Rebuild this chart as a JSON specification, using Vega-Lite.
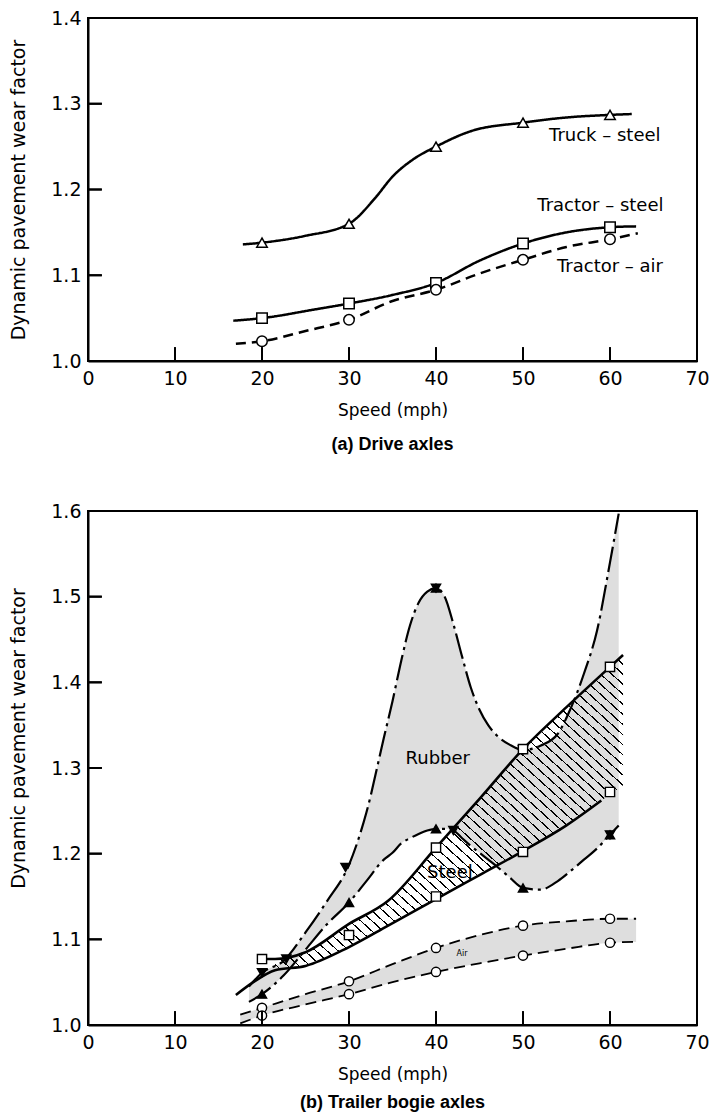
{
  "$schema": "https://vega.github.io/schema/vega-lite/v6.json",
  "background": "white",
  "padding": {"left": 8, "top": 8, "right": 0, "bottom": 0},
  "spacing": 46,
  "datasets": {
    "driveCurves": [
      {"series": "Truck – steel", "speed": 17.8, "value": 1.136},
      {"series": "Truck – steel", "speed": 20, "value": 1.138},
      {"series": "Truck – steel", "speed": 25, "value": 1.146},
      {"series": "Truck – steel", "speed": 30, "value": 1.16},
      {"series": "Truck – steel", "speed": 33, "value": 1.19},
      {"series": "Truck – steel", "speed": 35, "value": 1.215},
      {"series": "Truck – steel", "speed": 37.5, "value": 1.236},
      {"series": "Truck – steel", "speed": 40, "value": 1.25},
      {"series": "Truck – steel", "speed": 44, "value": 1.268},
      {"series": "Truck – steel", "speed": 50, "value": 1.278},
      {"series": "Truck – steel", "speed": 55, "value": 1.284},
      {"series": "Truck – steel", "speed": 60, "value": 1.287},
      {"series": "Truck – steel", "speed": 62.5, "value": 1.288},
      {"series": "Tractor – steel", "speed": 16.7, "value": 1.047},
      {"series": "Tractor – steel", "speed": 20, "value": 1.05},
      {"series": "Tractor – steel", "speed": 26, "value": 1.06},
      {"series": "Tractor – steel", "speed": 30, "value": 1.067},
      {"series": "Tractor – steel", "speed": 35, "value": 1.077},
      {"series": "Tractor – steel", "speed": 40, "value": 1.091},
      {"series": "Tractor – steel", "speed": 45, "value": 1.117},
      {"series": "Tractor – steel", "speed": 50, "value": 1.137},
      {"series": "Tractor – steel", "speed": 55, "value": 1.15},
      {"series": "Tractor – steel", "speed": 60, "value": 1.156},
      {"series": "Tractor – steel", "speed": 63, "value": 1.157},
      {"series": "Tractor – air", "speed": 17, "value": 1.02},
      {"series": "Tractor – air", "speed": 20, "value": 1.023},
      {"series": "Tractor – air", "speed": 25, "value": 1.035},
      {"series": "Tractor – air", "speed": 30, "value": 1.048},
      {"series": "Tractor – air", "speed": 35, "value": 1.07},
      {"series": "Tractor – air", "speed": 40, "value": 1.083},
      {"series": "Tractor – air", "speed": 45, "value": 1.102},
      {"series": "Tractor – air", "speed": 50, "value": 1.118},
      {"series": "Tractor – air", "speed": 55, "value": 1.133},
      {"series": "Tractor – air", "speed": 60, "value": 1.142},
      {"series": "Tractor – air", "speed": 63.2, "value": 1.149}
    ],
    "drivePoints": [
      {"series": "Truck – steel", "speed": 20, "value": 1.138},
      {"series": "Truck – steel", "speed": 30, "value": 1.16},
      {"series": "Truck – steel", "speed": 40, "value": 1.25},
      {"series": "Truck – steel", "speed": 50, "value": 1.278},
      {"series": "Truck – steel", "speed": 60, "value": 1.287},
      {"series": "Tractor – steel", "speed": 20, "value": 1.05},
      {"series": "Tractor – steel", "speed": 30, "value": 1.067},
      {"series": "Tractor – steel", "speed": 40, "value": 1.091},
      {"series": "Tractor – steel", "speed": 50, "value": 1.137},
      {"series": "Tractor – steel", "speed": 60, "value": 1.156},
      {"series": "Tractor – air", "speed": 20, "value": 1.023},
      {"series": "Tractor – air", "speed": 30, "value": 1.048},
      {"series": "Tractor – air", "speed": 40, "value": 1.083},
      {"series": "Tractor – air", "speed": 50, "value": 1.118},
      {"series": "Tractor – air", "speed": 60, "value": 1.142}
    ],
    "driveLabels": [
      {"label": "Truck – steel", "speed": 59.4, "value": 1.262},
      {"label": "Tractor – steel", "speed": 58.9, "value": 1.181},
      {"label": "Tractor – air", "speed": 60, "value": 1.11}
    ],
    "speedTicks": [
      {"speed": 10}, {"speed": 20}, {"speed": 30}, {"speed": 40}, {"speed": 50}, {"speed": 60}
    ],
    "driveFactorTicks": [
      {"value": 1.1}, {"value": 1.2}, {"value": 1.3}
    ],
    "bogieFactorTicks": [
      {"value": 1.1}, {"value": 1.2}, {"value": 1.3}, {"value": 1.4}, {"value": 1.5}
    ],
    "rubberBand": [
      {"speed": 18.5, "lo": 1.027, "hi": 1.045},
      {"speed": 20, "lo": 1.036, "hi": 1.061},
      {"speed": 22.5, "lo": 1.058, "hi": 1.075},
      {"speed": 25, "lo": 1.088, "hi": 1.108},
      {"speed": 27.5, "lo": 1.118, "hi": 1.145},
      {"speed": 30, "lo": 1.143, "hi": 1.187},
      {"speed": 32, "lo": 1.168, "hi": 1.248},
      {"speed": 34, "lo": 1.193, "hi": 1.335},
      {"speed": 35, "lo": 1.201, "hi": 1.378},
      {"speed": 36, "lo": 1.212, "hi": 1.425},
      {"speed": 37, "lo": 1.218, "hi": 1.466},
      {"speed": 38, "lo": 1.223, "hi": 1.493},
      {"speed": 39, "lo": 1.227, "hi": 1.506},
      {"speed": 40, "lo": 1.229, "hi": 1.51},
      {"speed": 41, "lo": 1.229, "hi": 1.5},
      {"speed": 42, "lo": 1.227, "hi": 1.468},
      {"speed": 43, "lo": 1.218, "hi": 1.43},
      {"speed": 44, "lo": 1.209, "hi": 1.394},
      {"speed": 45, "lo": 1.201, "hi": 1.368},
      {"speed": 46, "lo": 1.193, "hi": 1.35},
      {"speed": 47, "lo": 1.185, "hi": 1.338},
      {"speed": 48.5, "lo": 1.172, "hi": 1.327},
      {"speed": 50, "lo": 1.16, "hi": 1.321},
      {"speed": 52, "lo": 1.158, "hi": 1.326},
      {"speed": 54, "lo": 1.168, "hi": 1.34},
      {"speed": 55.5, "lo": 1.18, "hi": 1.37},
      {"speed": 57, "lo": 1.193, "hi": 1.41},
      {"speed": 58.5, "lo": 1.206, "hi": 1.46},
      {"speed": 60, "lo": 1.222, "hi": 1.54},
      {"speed": 61, "lo": 1.233, "hi": 1.597}
    ],
    "steelBand": [
      {"speed": 21.5, "lo": 1.064, "hi": 1.077},
      {"speed": 25, "lo": 1.069, "hi": 1.085},
      {"speed": 30, "lo": 1.091, "hi": 1.118},
      {"speed": 34.5, "lo": 1.116, "hi": 1.145},
      {"speed": 40, "lo": 1.147, "hi": 1.207},
      {"speed": 45, "lo": 1.175, "hi": 1.264},
      {"speed": 50, "lo": 1.203, "hi": 1.322},
      {"speed": 55, "lo": 1.233, "hi": 1.371},
      {"speed": 59, "lo": 1.262, "hi": 1.408},
      {"speed": 61.5, "lo": 1.28, "hi": 1.432}
    ],
    "steelLines": [
      {"curve": "upper", "speed": 20, "value": 1.077},
      {"curve": "upper", "speed": 21.5, "value": 1.077},
      {"curve": "upper", "speed": 25, "value": 1.085},
      {"curve": "upper", "speed": 30, "value": 1.118},
      {"curve": "upper", "speed": 34.5, "value": 1.145},
      {"curve": "upper", "speed": 40, "value": 1.207},
      {"curve": "upper", "speed": 45, "value": 1.264},
      {"curve": "upper", "speed": 50, "value": 1.322},
      {"curve": "upper", "speed": 55, "value": 1.371},
      {"curve": "upper", "speed": 60, "value": 1.418},
      {"curve": "upper", "speed": 61.5, "value": 1.432},
      {"curve": "lower", "speed": 17, "value": 1.035},
      {"curve": "lower", "speed": 19, "value": 1.05},
      {"curve": "lower", "speed": 21.5, "value": 1.064},
      {"curve": "lower", "speed": 25, "value": 1.069},
      {"curve": "lower", "speed": 30, "value": 1.091},
      {"curve": "lower", "speed": 34.5, "value": 1.116},
      {"curve": "lower", "speed": 40, "value": 1.147},
      {"curve": "lower", "speed": 45, "value": 1.175},
      {"curve": "lower", "speed": 50, "value": 1.203},
      {"curve": "lower", "speed": 55, "value": 1.233},
      {"curve": "lower", "speed": 59, "value": 1.262}
    ],
    "airBand": [
      {"speed": 17.5, "lo": 1.002, "hi": 1.012},
      {"speed": 20, "lo": 1.011, "hi": 1.02},
      {"speed": 25, "lo": 1.024, "hi": 1.036},
      {"speed": 30, "lo": 1.036, "hi": 1.051},
      {"speed": 35, "lo": 1.05, "hi": 1.071},
      {"speed": 40, "lo": 1.062, "hi": 1.09},
      {"speed": 45, "lo": 1.072, "hi": 1.105},
      {"speed": 50, "lo": 1.081, "hi": 1.116},
      {"speed": 55, "lo": 1.089, "hi": 1.121},
      {"speed": 60, "lo": 1.096, "hi": 1.124},
      {"speed": 63, "lo": 1.097, "hi": 1.124}
    ],
    "bogiePoints": [
      {"series": "rubber-down", "speed": 20, "value": 1.061},
      {"series": "rubber-down", "speed": 22.8, "value": 1.077},
      {"series": "rubber-down", "speed": 29.6, "value": 1.184},
      {"series": "rubber-down", "speed": 40, "value": 1.51},
      {"series": "rubber-down", "speed": 42, "value": 1.227},
      {"series": "rubber-down", "speed": 50, "value": 1.321},
      {"series": "rubber-down", "speed": 60, "value": 1.222},
      {"series": "rubber-up", "speed": 20, "value": 1.036},
      {"series": "rubber-up", "speed": 30, "value": 1.143},
      {"series": "rubber-up", "speed": 40, "value": 1.229},
      {"series": "rubber-up", "speed": 40, "value": 1.51},
      {"series": "rubber-up", "speed": 50, "value": 1.16},
      {"series": "rubber-up", "speed": 60, "value": 1.222},
      {"series": "steel", "speed": 20, "value": 1.077},
      {"series": "steel", "speed": 30, "value": 1.105},
      {"series": "steel", "speed": 40, "value": 1.207},
      {"series": "steel", "speed": 40, "value": 1.15},
      {"series": "steel", "speed": 50, "value": 1.322},
      {"series": "steel", "speed": 50, "value": 1.202},
      {"series": "steel", "speed": 60, "value": 1.418},
      {"series": "steel", "speed": 60, "value": 1.272},
      {"series": "air", "speed": 20, "value": 1.02},
      {"series": "air", "speed": 20, "value": 1.011},
      {"series": "air", "speed": 30, "value": 1.051},
      {"series": "air", "speed": 30, "value": 1.036},
      {"series": "air", "speed": 40, "value": 1.09},
      {"series": "air", "speed": 40, "value": 1.062},
      {"series": "air", "speed": 50, "value": 1.116},
      {"series": "air", "speed": 50, "value": 1.081},
      {"series": "air", "speed": 60, "value": 1.124},
      {"series": "air", "speed": 60, "value": 1.096}
    ],
    "bogieLabels": [
      {"label": "Rubber", "speed": 40.2, "value": 1.311},
      {"label": "Steel", "speed": 41.6, "value": 1.178}
    ],
    "airLabel": [
      {"label": "Air", "speed": 43, "value": 1.083}
    ]
  },
  "resolve": {"scale": {"x": "independent", "y": "independent", "shape": "independent", "fill": "independent", "strokeDash": "independent"}},
  "vconcat": [
    {
      "width": 609,
      "height": 343,
      "title": {"text": "(a) Drive axles", "orient": "bottom", "frame": "group", "anchor": "middle", "offset": 18},
      "layer": [
        {
          "data": {"name": "driveCurves"},
          "mark": {"type": "line", "interpolate": "monotone", "color": "black", "strokeWidth": 2.5},
          "encoding": {
            "x": {"field": "speed", "type": "quantitative", "scale": {"domain": [0, 70], "nice": false}, "axis": {"values": [0, 10, 20, 30, 40, 50, 60, 70], "title": "Speed (mph)"}},
            "y": {"field": "value", "type": "quantitative", "scale": {"domain": [1.0, 1.4], "nice": false, "zero": false}, "axis": {"values": [1.0, 1.1, 1.2, 1.3, 1.4], "format": ".1f", "title": "Dynamic pavement wear factor", "titleX": -70, "titleY": 171.5}},
            "detail": {"field": "series", "type": "nominal"},
            "strokeDash": {"field": "series", "type": "nominal", "scale": {"domain": ["Truck – steel", "Tractor – steel", "Tractor – air"], "range": [[1, 0], [1, 0], [10, 6]]}, "legend": null}
          }
        },
        {
          "data": {"name": "drivePoints"},
          "mark": {"type": "point", "filled": true, "fill": "white", "stroke": "black", "strokeWidth": 1.5, "opacity": 1, "size": 110},
          "encoding": {
            "x": {"field": "speed", "type": "quantitative", "scale": {"domain": [0, 70], "nice": false}},
            "y": {"field": "value", "type": "quantitative", "scale": {"domain": [1.0, 1.4], "nice": false, "zero": false}},
            "shape": {"field": "series", "type": "nominal", "scale": {"domain": ["Truck – steel", "Tractor – steel", "Tractor – air"], "range": ["triangle-up", "square", "circle"]}, "legend": null}
          }
        },
        {
          "data": {"name": "driveLabels"},
          "mark": {"type": "text", "font": "DejaVu Sans", "fontSize": 18, "color": "black", "align": "center", "baseline": "middle"},
          "encoding": {
            "x": {"field": "speed", "type": "quantitative", "scale": {"domain": [0, 70], "nice": false}},
            "y": {"field": "value", "type": "quantitative", "scale": {"domain": [1.0, 1.4], "nice": false, "zero": false}},
            "text": {"field": "label"}
          }
        },
        {
          "data": {"name": "speedTicks"},
          "mark": {"type": "rule", "color": "black", "strokeWidth": 2, "opacity": 1},
          "encoding": {
            "x": {"field": "speed", "type": "quantitative", "scale": {"domain": [0, 70], "nice": false}},
            "y": {"datum": 1.0, "type": "quantitative", "scale": {"domain": [1.0, 1.4], "nice": false, "zero": false}},
            "y2": {"datum": 1.016}
          }
        },
        {
          "data": {"name": "speedTicks"},
          "mark": {"type": "point", "shape": "M0,0L0,-1", "size": 751, "filled": false, "stroke": "black", "strokeWidth": 2, "opacity": 1},
          "encoding": {
            "x": {"field": "speed", "type": "quantitative", "scale": {"domain": [0, 70], "nice": false}},
            "y": {"datum": 1.0, "type": "quantitative", "scale": {"domain": [1.0, 1.4], "nice": false, "zero": false}}
          }
        },
        {
          "data": {"name": "driveFactorTicks"},
          "mark": {"type": "rule", "color": "black", "strokeWidth": 2, "opacity": 1},
          "encoding": {
            "x": {"datum": 0, "type": "quantitative", "scale": {"domain": [0, 70], "nice": false}},
            "x2": {"datum": 1.6},
            "y": {"field": "value", "type": "quantitative", "scale": {"domain": [1.0, 1.4], "nice": false, "zero": false}}
          }
        },
        {
          "data": {"name": "driveFactorTicks"},
          "mark": {"type": "point", "shape": "M0,0L1,0", "size": 751, "filled": false, "stroke": "black", "strokeWidth": 2, "opacity": 1},
          "encoding": {
            "x": {"datum": 0, "type": "quantitative", "scale": {"domain": [0, 70], "nice": false}},
            "y": {"field": "value", "type": "quantitative", "scale": {"domain": [1.0, 1.4], "nice": false, "zero": false}}
          }
        }
      ]
    },
    {
      "width": 609,
      "height": 514,
      "title": {"text": "(b) Trailer bogie axles", "orient": "bottom", "frame": "group", "anchor": "middle", "offset": 12},
      "layer": [
        {
          "data": {"name": "rubberBand"},
          "mark": {"type": "area", "interpolate": "monotone", "color": "#dedede", "opacity": 1},
          "encoding": {
            "x": {"field": "speed", "type": "quantitative", "scale": {"domain": [0, 70], "nice": false}, "axis": {"values": [0, 10, 20, 30, 40, 50, 60, 70], "title": "Speed (mph)"}},
            "y": {"field": "lo", "type": "quantitative", "scale": {"domain": [1.0, 1.6], "nice": false, "zero": false}, "axis": {"values": [1.0, 1.1, 1.2, 1.3, 1.4, 1.5, 1.6], "format": ".1f", "title": "Dynamic pavement wear factor", "titleX": -70, "titleY": 227}},
            "y2": {"field": "hi"}
          }
        },
        {
          "data": {"name": "airBand"},
          "mark": {"type": "area", "interpolate": "monotone", "color": "#dedede", "opacity": 1},
          "encoding": {
            "x": {"field": "speed", "type": "quantitative", "scale": {"domain": [0, 70], "nice": false}},
            "y": {"field": "lo", "type": "quantitative", "scale": {"domain": [1.0, 1.6], "nice": false, "zero": false}},
            "y2": {"field": "hi"}
          }
        },
        {
          "data": {"name": "steelBand"},
          "mark": {
            "type": "area",
            "interpolate": "monotone",
            "opacity": 1,
            "fill": {
              "gradient": "linear", "x1": 0, "y1": 1, "x2": 1, "y2": 0,
              "stops": [
                {"offset": 0, "color": "transparent"},
                {"offset": 0.008, "color": "transparent"}, {"offset": 0.008, "color": "black"}, {"offset": 0.0105, "color": "black"}, {"offset": 0.0105, "color": "transparent"},
                {"offset": 0.024, "color": "transparent"}, {"offset": 0.024, "color": "black"}, {"offset": 0.0265, "color": "black"}, {"offset": 0.0265, "color": "transparent"},
                {"offset": 0.04, "color": "transparent"}, {"offset": 0.04, "color": "black"}, {"offset": 0.0425, "color": "black"}, {"offset": 0.0425, "color": "transparent"},
                {"offset": 0.056, "color": "transparent"}, {"offset": 0.056, "color": "black"}, {"offset": 0.0585, "color": "black"}, {"offset": 0.0585, "color": "transparent"},
                {"offset": 0.072, "color": "transparent"}, {"offset": 0.072, "color": "black"}, {"offset": 0.0745, "color": "black"}, {"offset": 0.0745, "color": "transparent"},
                {"offset": 0.088, "color": "transparent"}, {"offset": 0.088, "color": "black"}, {"offset": 0.0905, "color": "black"}, {"offset": 0.0905, "color": "transparent"},
                {"offset": 0.104, "color": "transparent"}, {"offset": 0.104, "color": "black"}, {"offset": 0.1065, "color": "black"}, {"offset": 0.1065, "color": "transparent"},
                {"offset": 0.12, "color": "transparent"}, {"offset": 0.12, "color": "black"}, {"offset": 0.1225, "color": "black"}, {"offset": 0.1225, "color": "transparent"},
                {"offset": 0.136, "color": "transparent"}, {"offset": 0.136, "color": "black"}, {"offset": 0.1385, "color": "black"}, {"offset": 0.1385, "color": "transparent"},
                {"offset": 0.152, "color": "transparent"}, {"offset": 0.152, "color": "black"}, {"offset": 0.1545, "color": "black"}, {"offset": 0.1545, "color": "transparent"},
                {"offset": 0.168, "color": "transparent"}, {"offset": 0.168, "color": "black"}, {"offset": 0.1705, "color": "black"}, {"offset": 0.1705, "color": "transparent"},
                {"offset": 0.184, "color": "transparent"}, {"offset": 0.184, "color": "black"}, {"offset": 0.1865, "color": "black"}, {"offset": 0.1865, "color": "transparent"},
                {"offset": 0.2, "color": "transparent"}, {"offset": 0.2, "color": "black"}, {"offset": 0.2025, "color": "black"}, {"offset": 0.2025, "color": "transparent"},
                {"offset": 0.216, "color": "transparent"}, {"offset": 0.216, "color": "black"}, {"offset": 0.2185, "color": "black"}, {"offset": 0.2185, "color": "transparent"},
                {"offset": 0.232, "color": "transparent"}, {"offset": 0.232, "color": "black"}, {"offset": 0.2345, "color": "black"}, {"offset": 0.2345, "color": "transparent"},
                {"offset": 0.248, "color": "transparent"}, {"offset": 0.248, "color": "black"}, {"offset": 0.2505, "color": "black"}, {"offset": 0.2505, "color": "transparent"},
                {"offset": 0.264, "color": "transparent"}, {"offset": 0.264, "color": "black"}, {"offset": 0.2665, "color": "black"}, {"offset": 0.2665, "color": "transparent"},
                {"offset": 0.28, "color": "transparent"}, {"offset": 0.28, "color": "black"}, {"offset": 0.2825, "color": "black"}, {"offset": 0.2825, "color": "transparent"},
                {"offset": 0.296, "color": "transparent"}, {"offset": 0.296, "color": "black"}, {"offset": 0.2985, "color": "black"}, {"offset": 0.2985, "color": "transparent"},
                {"offset": 0.312, "color": "transparent"}, {"offset": 0.312, "color": "black"}, {"offset": 0.3145, "color": "black"}, {"offset": 0.3145, "color": "transparent"},
                {"offset": 0.328, "color": "transparent"}, {"offset": 0.328, "color": "black"}, {"offset": 0.3305, "color": "black"}, {"offset": 0.3305, "color": "transparent"},
                {"offset": 0.344, "color": "transparent"}, {"offset": 0.344, "color": "black"}, {"offset": 0.3465, "color": "black"}, {"offset": 0.3465, "color": "transparent"},
                {"offset": 0.36, "color": "transparent"}, {"offset": 0.36, "color": "black"}, {"offset": 0.3625, "color": "black"}, {"offset": 0.3625, "color": "transparent"},
                {"offset": 0.376, "color": "transparent"}, {"offset": 0.376, "color": "black"}, {"offset": 0.3785, "color": "black"}, {"offset": 0.3785, "color": "transparent"},
                {"offset": 0.392, "color": "transparent"}, {"offset": 0.392, "color": "black"}, {"offset": 0.3945, "color": "black"}, {"offset": 0.3945, "color": "transparent"},
                {"offset": 0.408, "color": "transparent"}, {"offset": 0.408, "color": "black"}, {"offset": 0.4105, "color": "black"}, {"offset": 0.4105, "color": "transparent"},
                {"offset": 0.424, "color": "transparent"}, {"offset": 0.424, "color": "black"}, {"offset": 0.4265, "color": "black"}, {"offset": 0.4265, "color": "transparent"},
                {"offset": 0.44, "color": "transparent"}, {"offset": 0.44, "color": "black"}, {"offset": 0.4425, "color": "black"}, {"offset": 0.4425, "color": "transparent"},
                {"offset": 0.456, "color": "transparent"}, {"offset": 0.456, "color": "black"}, {"offset": 0.4585, "color": "black"}, {"offset": 0.4585, "color": "transparent"},
                {"offset": 0.472, "color": "transparent"}, {"offset": 0.472, "color": "black"}, {"offset": 0.4745, "color": "black"}, {"offset": 0.4745, "color": "transparent"},
                {"offset": 0.488, "color": "transparent"}, {"offset": 0.488, "color": "black"}, {"offset": 0.4905, "color": "black"}, {"offset": 0.4905, "color": "transparent"},
                {"offset": 0.504, "color": "transparent"}, {"offset": 0.504, "color": "black"}, {"offset": 0.5065, "color": "black"}, {"offset": 0.5065, "color": "transparent"},
                {"offset": 0.52, "color": "transparent"}, {"offset": 0.52, "color": "black"}, {"offset": 0.5225, "color": "black"}, {"offset": 0.5225, "color": "transparent"},
                {"offset": 0.536, "color": "transparent"}, {"offset": 0.536, "color": "black"}, {"offset": 0.5385, "color": "black"}, {"offset": 0.5385, "color": "transparent"},
                {"offset": 0.552, "color": "transparent"}, {"offset": 0.552, "color": "black"}, {"offset": 0.5545, "color": "black"}, {"offset": 0.5545, "color": "transparent"},
                {"offset": 0.568, "color": "transparent"}, {"offset": 0.568, "color": "black"}, {"offset": 0.5705, "color": "black"}, {"offset": 0.5705, "color": "transparent"},
                {"offset": 0.584, "color": "transparent"}, {"offset": 0.584, "color": "black"}, {"offset": 0.5865, "color": "black"}, {"offset": 0.5865, "color": "transparent"},
                {"offset": 0.6, "color": "transparent"}, {"offset": 0.6, "color": "black"}, {"offset": 0.6025, "color": "black"}, {"offset": 0.6025, "color": "transparent"},
                {"offset": 0.616, "color": "transparent"}, {"offset": 0.616, "color": "black"}, {"offset": 0.6185, "color": "black"}, {"offset": 0.6185, "color": "transparent"},
                {"offset": 0.632, "color": "transparent"}, {"offset": 0.632, "color": "black"}, {"offset": 0.6345, "color": "black"}, {"offset": 0.6345, "color": "transparent"},
                {"offset": 0.648, "color": "transparent"}, {"offset": 0.648, "color": "black"}, {"offset": 0.6505, "color": "black"}, {"offset": 0.6505, "color": "transparent"},
                {"offset": 0.664, "color": "transparent"}, {"offset": 0.664, "color": "black"}, {"offset": 0.6665, "color": "black"}, {"offset": 0.6665, "color": "transparent"},
                {"offset": 0.68, "color": "transparent"}, {"offset": 0.68, "color": "black"}, {"offset": 0.6825, "color": "black"}, {"offset": 0.6825, "color": "transparent"},
                {"offset": 0.696, "color": "transparent"}, {"offset": 0.696, "color": "black"}, {"offset": 0.6985, "color": "black"}, {"offset": 0.6985, "color": "transparent"},
                {"offset": 0.712, "color": "transparent"}, {"offset": 0.712, "color": "black"}, {"offset": 0.7145, "color": "black"}, {"offset": 0.7145, "color": "transparent"},
                {"offset": 0.728, "color": "transparent"}, {"offset": 0.728, "color": "black"}, {"offset": 0.7305, "color": "black"}, {"offset": 0.7305, "color": "transparent"},
                {"offset": 0.744, "color": "transparent"}, {"offset": 0.744, "color": "black"}, {"offset": 0.7465, "color": "black"}, {"offset": 0.7465, "color": "transparent"},
                {"offset": 0.76, "color": "transparent"}, {"offset": 0.76, "color": "black"}, {"offset": 0.7625, "color": "black"}, {"offset": 0.7625, "color": "transparent"},
                {"offset": 0.776, "color": "transparent"}, {"offset": 0.776, "color": "black"}, {"offset": 0.7785, "color": "black"}, {"offset": 0.7785, "color": "transparent"},
                {"offset": 0.792, "color": "transparent"}, {"offset": 0.792, "color": "black"}, {"offset": 0.7945, "color": "black"}, {"offset": 0.7945, "color": "transparent"},
                {"offset": 0.808, "color": "transparent"}, {"offset": 0.808, "color": "black"}, {"offset": 0.8105, "color": "black"}, {"offset": 0.8105, "color": "transparent"},
                {"offset": 0.824, "color": "transparent"}, {"offset": 0.824, "color": "black"}, {"offset": 0.8265, "color": "black"}, {"offset": 0.8265, "color": "transparent"},
                {"offset": 0.84, "color": "transparent"}, {"offset": 0.84, "color": "black"}, {"offset": 0.8425, "color": "black"}, {"offset": 0.8425, "color": "transparent"},
                {"offset": 0.856, "color": "transparent"}, {"offset": 0.856, "color": "black"}, {"offset": 0.8585, "color": "black"}, {"offset": 0.8585, "color": "transparent"},
                {"offset": 0.872, "color": "transparent"}, {"offset": 0.872, "color": "black"}, {"offset": 0.8745, "color": "black"}, {"offset": 0.8745, "color": "transparent"},
                {"offset": 0.888, "color": "transparent"}, {"offset": 0.888, "color": "black"}, {"offset": 0.8905, "color": "black"}, {"offset": 0.8905, "color": "transparent"},
                {"offset": 0.904, "color": "transparent"}, {"offset": 0.904, "color": "black"}, {"offset": 0.9065, "color": "black"}, {"offset": 0.9065, "color": "transparent"},
                {"offset": 0.92, "color": "transparent"}, {"offset": 0.92, "color": "black"}, {"offset": 0.9225, "color": "black"}, {"offset": 0.9225, "color": "transparent"},
                {"offset": 0.936, "color": "transparent"}, {"offset": 0.936, "color": "black"}, {"offset": 0.9385, "color": "black"}, {"offset": 0.9385, "color": "transparent"},
                {"offset": 0.952, "color": "transparent"}, {"offset": 0.952, "color": "black"}, {"offset": 0.9545, "color": "black"}, {"offset": 0.9545, "color": "transparent"},
                {"offset": 0.968, "color": "transparent"}, {"offset": 0.968, "color": "black"}, {"offset": 0.9705, "color": "black"}, {"offset": 0.9705, "color": "transparent"},
                {"offset": 0.984, "color": "transparent"}, {"offset": 0.984, "color": "black"}, {"offset": 0.9865, "color": "black"}, {"offset": 0.9865, "color": "transparent"},
                {"offset": 1, "color": "transparent"}
              ]
            }
          },
          "encoding": {
            "x": {"field": "speed", "type": "quantitative", "scale": {"domain": [0, 70], "nice": false}},
            "y": {"field": "lo", "type": "quantitative", "scale": {"domain": [1.0, 1.6], "nice": false, "zero": false}},
            "y2": {"field": "hi"}
          }
        },
        {
          "data": {"name": "rubberBand"},
          "mark": {"type": "line", "interpolate": "monotone", "color": "black", "strokeWidth": 2.2, "strokeDash": [26, 5, 3, 5]},
          "encoding": {
            "x": {"field": "speed", "type": "quantitative", "scale": {"domain": [0, 70], "nice": false}},
            "y": {"field": "hi", "type": "quantitative", "scale": {"domain": [1.0, 1.6], "nice": false, "zero": false}}
          }
        },
        {
          "data": {"name": "rubberBand"},
          "mark": {"type": "line", "interpolate": "monotone", "color": "black", "strokeWidth": 2.2, "strokeDash": [26, 5, 3, 5]},
          "encoding": {
            "x": {"field": "speed", "type": "quantitative", "scale": {"domain": [0, 70], "nice": false}},
            "y": {"field": "lo", "type": "quantitative", "scale": {"domain": [1.0, 1.6], "nice": false, "zero": false}}
          }
        },
        {
          "data": {"name": "steelLines"},
          "mark": {"type": "line", "interpolate": "monotone", "color": "black", "strokeWidth": 2.6},
          "encoding": {
            "x": {"field": "speed", "type": "quantitative", "scale": {"domain": [0, 70], "nice": false}},
            "y": {"field": "value", "type": "quantitative", "scale": {"domain": [1.0, 1.6], "nice": false, "zero": false}},
            "detail": {"field": "curve", "type": "nominal"}
          }
        },
        {
          "data": {"name": "airBand"},
          "mark": {"type": "line", "interpolate": "monotone", "color": "black", "strokeWidth": 1.8, "strokeDash": [11, 6]},
          "encoding": {
            "x": {"field": "speed", "type": "quantitative", "scale": {"domain": [0, 70], "nice": false}},
            "y": {"field": "hi", "type": "quantitative", "scale": {"domain": [1.0, 1.6], "nice": false, "zero": false}}
          }
        },
        {
          "data": {"name": "airBand"},
          "mark": {"type": "line", "interpolate": "monotone", "color": "black", "strokeWidth": 1.8, "strokeDash": [11, 6]},
          "encoding": {
            "x": {"field": "speed", "type": "quantitative", "scale": {"domain": [0, 70], "nice": false}},
            "y": {"field": "lo", "type": "quantitative", "scale": {"domain": [1.0, 1.6], "nice": false, "zero": false}}
          }
        },
        {
          "data": {"name": "bogiePoints"},
          "mark": {"type": "point", "filled": true, "stroke": "black", "strokeWidth": 1.4, "opacity": 1, "size": 85},
          "encoding": {
            "x": {"field": "speed", "type": "quantitative", "scale": {"domain": [0, 70], "nice": false}},
            "y": {"field": "value", "type": "quantitative", "scale": {"domain": [1.0, 1.6], "nice": false, "zero": false}},
            "shape": {"field": "series", "type": "nominal", "scale": {"domain": ["rubber-down", "rubber-up", "steel", "air"], "range": ["triangle-down", "triangle-up", "square", "circle"]}, "legend": null},
            "fill": {"field": "series", "type": "nominal", "scale": {"domain": ["rubber-down", "rubber-up", "steel", "air"], "range": ["black", "black", "white", "white"]}, "legend": null}
          }
        },
        {
          "data": {"name": "bogieLabels"},
          "mark": {"type": "text", "font": "DejaVu Sans", "fontSize": 18, "color": "black", "align": "center", "baseline": "middle"},
          "encoding": {
            "x": {"field": "speed", "type": "quantitative", "scale": {"domain": [0, 70], "nice": false}},
            "y": {"field": "value", "type": "quantitative", "scale": {"domain": [1.0, 1.6], "nice": false, "zero": false}},
            "text": {"field": "label"}
          }
        },
        {
          "data": {"name": "airLabel"},
          "mark": {"type": "text", "font": "DejaVu Sans", "fontSize": 8, "color": "black", "align": "center", "baseline": "middle"},
          "encoding": {
            "x": {"field": "speed", "type": "quantitative", "scale": {"domain": [0, 70], "nice": false}},
            "y": {"field": "value", "type": "quantitative", "scale": {"domain": [1.0, 1.6], "nice": false, "zero": false}},
            "text": {"field": "label"}
          }
        },
        {
          "data": {"name": "speedTicks"},
          "mark": {"type": "rule", "color": "black", "strokeWidth": 2, "opacity": 1},
          "encoding": {
            "x": {"field": "speed", "type": "quantitative", "scale": {"domain": [0, 70], "nice": false}},
            "y": {"datum": 1.0, "type": "quantitative", "scale": {"domain": [1.0, 1.6], "nice": false, "zero": false}},
            "y2": {"datum": 1.016}
          }
        },
        {
          "data": {"name": "speedTicks"},
          "mark": {"type": "point", "shape": "M0,0L0,-1", "size": 751, "filled": false, "stroke": "black", "strokeWidth": 2, "opacity": 1},
          "encoding": {
            "x": {"field": "speed", "type": "quantitative", "scale": {"domain": [0, 70], "nice": false}},
            "y": {"datum": 1.0, "type": "quantitative", "scale": {"domain": [1.0, 1.6], "nice": false, "zero": false}}
          }
        },
        {
          "data": {"name": "bogieFactorTicks"},
          "mark": {"type": "rule", "color": "black", "strokeWidth": 2, "opacity": 1},
          "encoding": {
            "x": {"datum": 0, "type": "quantitative", "scale": {"domain": [0, 70], "nice": false}},
            "x2": {"datum": 1.6},
            "y": {"field": "value", "type": "quantitative", "scale": {"domain": [1.0, 1.6], "nice": false, "zero": false}}
          }
        },
        {
          "data": {"name": "bogieFactorTicks"},
          "mark": {"type": "point", "shape": "M0,0L1,0", "size": 751, "filled": false, "stroke": "black", "strokeWidth": 2, "opacity": 1},
          "encoding": {
            "x": {"datum": 0, "type": "quantitative", "scale": {"domain": [0, 70], "nice": false}},
            "y": {"field": "value", "type": "quantitative", "scale": {"domain": [1.0, 1.6], "nice": false, "zero": false}}
          }
        }
      ]
    }
  ],
  "config": {
    "font": "DejaVu Sans",
    "view": {"stroke": "black", "strokeWidth": 2},
    "axis": {
      "domainColor": "black", "domainWidth": 2,
      "ticks": false,
      "grid": false,
      "labelFont": "DejaVu Sans", "labelFontSize": 19, "labelColor": "black", "labelFlush": false, "labelOverlap": false,
      "titleFont": "DejaVu Sans", "titleFontSize": 19, "titleFontWeight": "normal", "titleColor": "black"
    },
    "axisX": {"labelPadding": 8, "titlePadding": 14, "titleFontSize": 17},
    "axisY": {"labelPadding": 7, "titleAngle": -90, "titleBaseline": "middle", "titleAlign": "center"},
    "title": {"font": "Liberation Sans", "fontSize": 18, "fontWeight": "bold", "color": "black"}
  }
}
